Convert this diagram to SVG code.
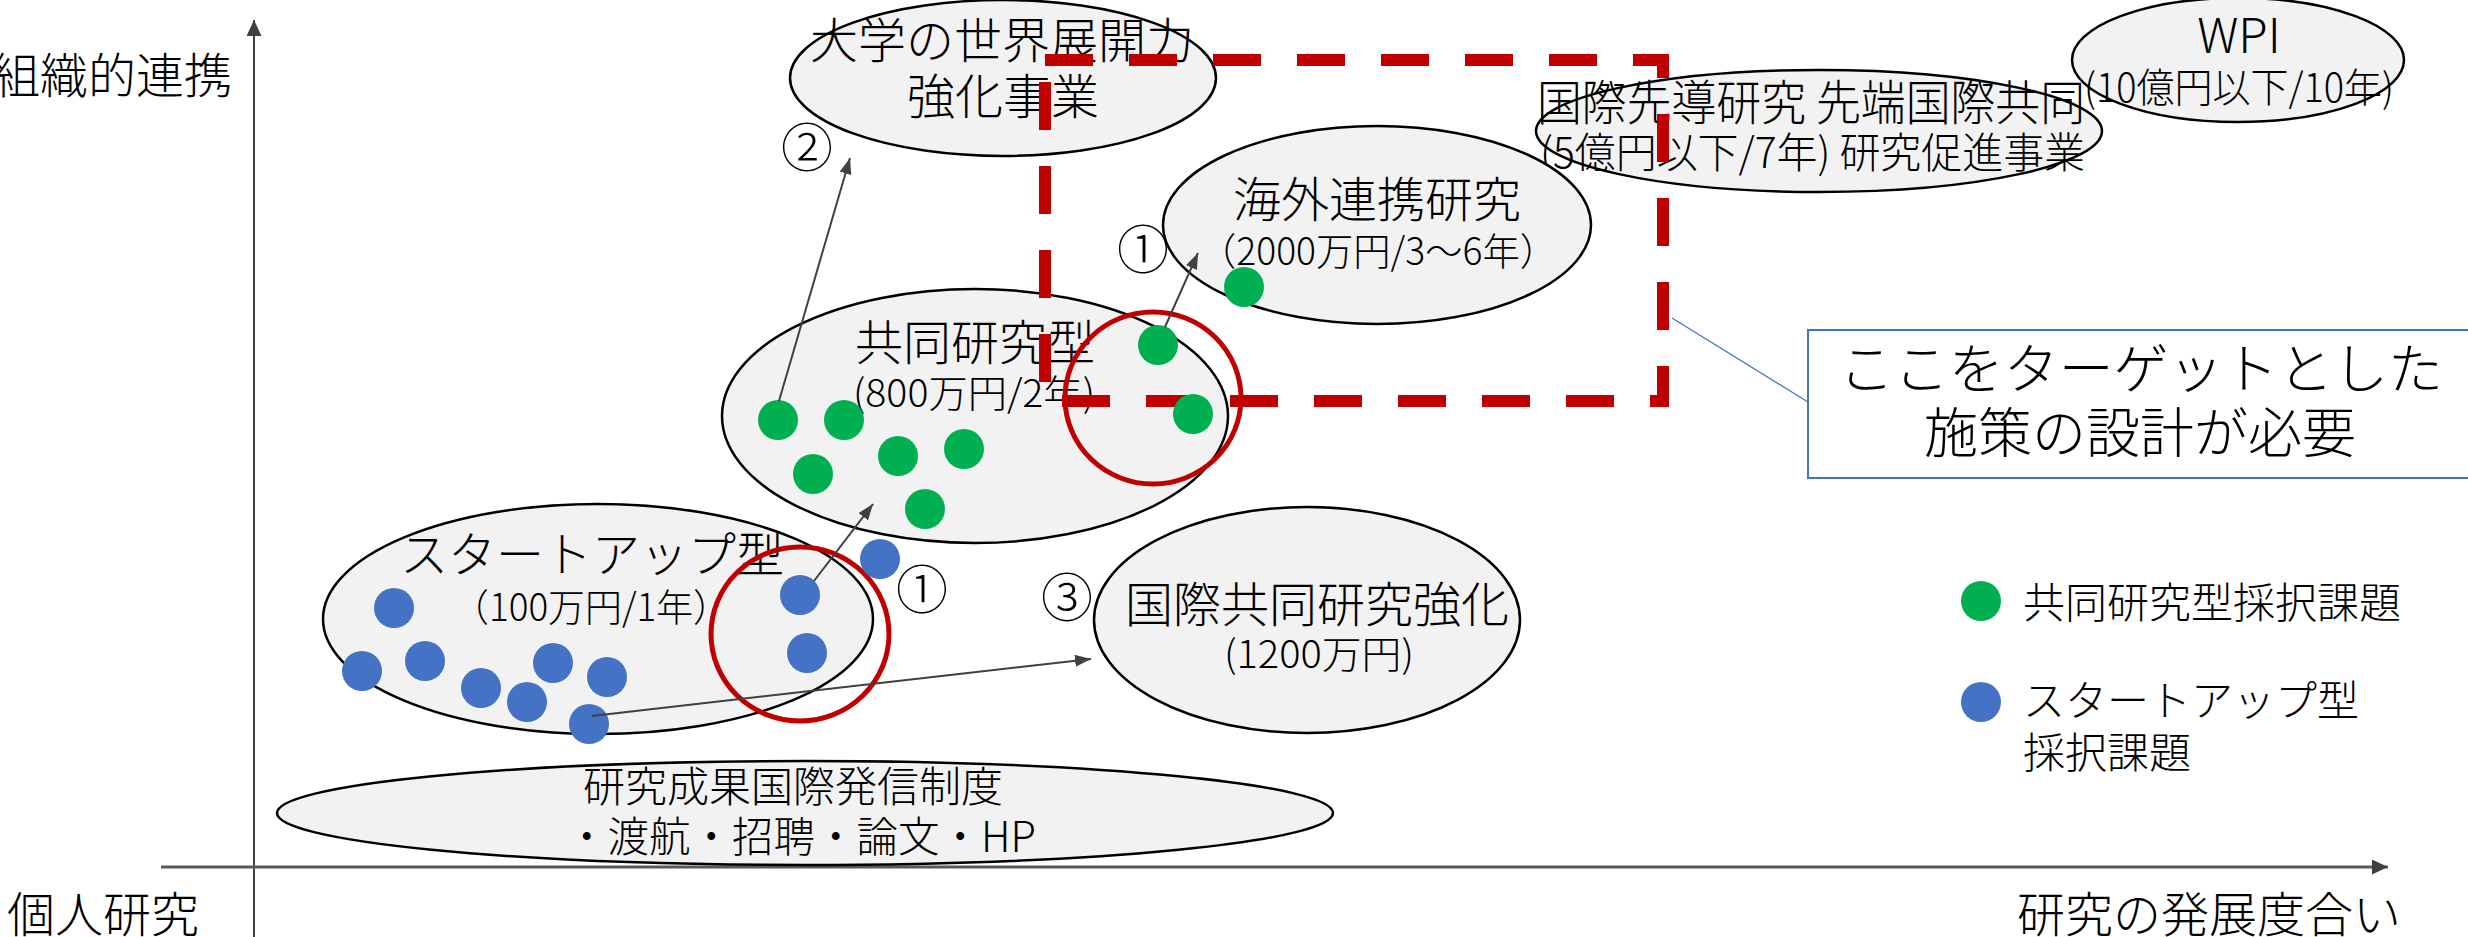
<svg xmlns="http://www.w3.org/2000/svg" width="2468" height="937" viewBox="0 0 2468 937">
<style>
.t{font-family:"Noto Sans CJK JP","Noto Sans CJK SC",sans-serif;font-weight:300;fill:#000}
.l{font-size:48px}
.s{font-size:38px}
.m{text-anchor:middle}
.el{fill:#F2F2F2;stroke:#000;stroke-width:2.5}
.g{fill:#00B050}
.b{fill:#4472C4}
.ar{stroke:#404040;stroke-width:2;fill:none;marker-end:url(#ah)}
.rc{fill:none;stroke:#C00000;stroke-width:5}
</style>
<defs>
<marker id="ah" markerWidth="16" markerHeight="12" refX="16" refY="6" orient="auto" markerUnits="userSpaceOnUse"><path d="M0,0 L16,6 L0,12 Z" fill="#404040"/></marker>
<marker id="ax" markerWidth="16" markerHeight="15" refX="16" refY="7.5" orient="auto" markerUnits="userSpaceOnUse"><path d="M0,0 L16,7.5 L0,15 Z" fill="#404040"/></marker>
</defs>
<g id="axes">
<line x1="254" y1="937" x2="254" y2="20" stroke="#404040" stroke-width="2" marker-end="url(#ax)"/>
<line x1="161" y1="867" x2="2388" y2="867" stroke="#595959" stroke-width="3" marker-end="url(#ax)"/>
<text class="t l" x="-8" y="93" font-size="47">組織的連携</text>
<text class="t l" x="7" y="932">個人研究</text>
<text class="t l" x="2017" y="932">研究の発展度合い</text>
</g>
<g id="daigaku">
<ellipse class="el" cx="1003" cy="78" rx="213" ry="78"/>
<text class="t l m" x="1002" y="58">大学の世界展開力</text>
<text class="t l m" x="1003" y="114">強化事業</text>
</g>
<g id="kokusai-sendou">
<ellipse class="el" cx="1819" cy="131" rx="283" ry="61"/>
<text class="t l" x="1537" y="120" textLength="548" lengthAdjust="spacingAndGlyphs">国際先導研究 先端国際共同</text>
<text class="t" font-size="42" x="1540" y="168" textLength="545" lengthAdjust="spacingAndGlyphs">(5億円以下/7年) 研究促進事業</text>
</g>
<g id="wpi">
<ellipse class="el" cx="2238" cy="60" rx="166" ry="62"/>
<text class="t l m" x="2239" y="53">WPI</text>
<text class="t m" font-size="40" x="2239" y="102" textLength="310" lengthAdjust="spacingAndGlyphs">(10億円以下/10年)</text>
</g>
<g id="kaigai">
<ellipse class="el" cx="1377" cy="225" rx="214" ry="99"/>
<text class="t l m" x="1377" y="217">海外連携研究</text>
<text class="t s m" x="1378" y="265" textLength="358" lengthAdjust="spacingAndGlyphs">（2000万円/3〜6年）</text>
</g>
<g id="kyoudou">
<ellipse class="el" cx="975" cy="416" rx="253" ry="127"/>
<text class="t l m" x="975" y="360">共同研究型</text>
<text class="t s m" x="974" y="407" textLength="242" lengthAdjust="spacingAndGlyphs">(800万円/2年)</text>
</g>
<g id="startup">
<ellipse class="el" cx="598" cy="619" rx="275" ry="115"/>
<text class="t l m" x="592" y="572">スタートアップ型</text>
<text class="t s m" x="591" y="621" textLength="278" lengthAdjust="spacingAndGlyphs">（100万円/1年）</text>
</g>
<g id="kokusai-kyoudou">
<ellipse class="el" cx="1307" cy="620" rx="213" ry="113"/>
<text class="t l m" x="1317" y="622">国際共同研究強化</text>
<text class="t s m" x="1319" y="668" textLength="190" lengthAdjust="spacingAndGlyphs">(1200万円)</text>
</g>
<g id="hasshin">
<ellipse class="el" cx="805" cy="813" rx="528" ry="52"/>
<text class="t m" font-size="42" x="793" y="802">研究成果国際発信制度</text>
<text class="t m" font-size="42" x="801" y="852" textLength="470" lengthAdjust="spacingAndGlyphs">・渡航・招聘・論文・HP</text>
</g>
<g id="target-area">
<path d="M1045,60 H1663 V401 H1045 Z" fill="none" stroke="#C00000" stroke-width="12" stroke-dasharray="48 36"/>
</g>
<g id="circles">
<ellipse class="rc" cx="800" cy="634" rx="89" ry="87"/>
<ellipse class="rc" cx="1153" cy="398" rx="88" ry="86"/>
</g>
<g id="dots">
<circle class="g" cx="778" cy="420" r="20"/>
<circle class="g" cx="844" cy="420" r="20"/>
<circle class="g" cx="813" cy="474" r="20"/>
<circle class="g" cx="898" cy="456" r="20"/>
<circle class="g" cx="964" cy="449" r="20"/>
<circle class="g" cx="925" cy="509" r="20"/>
<circle class="g" cx="1158" cy="345" r="20"/>
<circle class="g" cx="1193" cy="414" r="20"/>
<circle class="g" cx="1244" cy="287" r="20"/>
<circle class="b" cx="394" cy="608" r="20"/>
<circle class="b" cx="362" cy="671" r="20"/>
<circle class="b" cx="425" cy="661" r="20"/>
<circle class="b" cx="481" cy="688" r="20"/>
<circle class="b" cx="527" cy="702" r="20"/>
<circle class="b" cx="553" cy="663" r="20"/>
<circle class="b" cx="607" cy="677" r="20"/>
<circle class="b" cx="589" cy="724" r="20"/>
<circle class="b" cx="800" cy="595" r="20"/>
<circle class="b" cx="807" cy="653" r="20"/>
<circle class="b" cx="880" cy="559" r="20"/>
</g>
<g id="connectors">
<line class="ar" x1="779" y1="401" x2="850" y2="158"/>
<line class="ar" x1="1165" y1="327" x2="1198" y2="253"/>
<line class="ar" x1="814" y1="581" x2="873" y2="504"/>
<line class="ar" x1="592" y1="716" x2="1091" y2="659"/>
<line x1="1672" y1="318" x2="1808" y2="402" stroke="#4472C4" stroke-width="1.2"/>
</g>
<g id="labels">
<text class="t m" font-size="52" x="807" y="167">②</text>
<text class="t m" font-size="52" x="1143" y="269">①</text>
<text class="t m" font-size="52" x="922" y="609">①</text>
<text class="t m" font-size="52" x="1067" y="617">③</text>
</g>
<g id="callout">
<rect x="1808" y="330" width="670" height="148" fill="#fff" stroke="#4472C4" stroke-width="2"/>
<text class="t m" font-size="54" x="2141" y="389" textLength="604" lengthAdjust="spacingAndGlyphs">ここをターゲットとした</text>
<text class="t m" font-size="54" x="2140" y="453">施策の設計が必要</text>
</g>
<g id="legend">
<circle class="g" cx="1981" cy="601" r="20"/>
<text class="t" font-size="42" x="2023" y="618">共同研究型採択課題</text>
<circle class="b" cx="1981" cy="702" r="20"/>
<text class="t" font-size="42" x="2023" y="716">スタートアップ型</text>
<text class="t" font-size="42" x="2023" y="768">採択課題</text>
</g>
</svg>
